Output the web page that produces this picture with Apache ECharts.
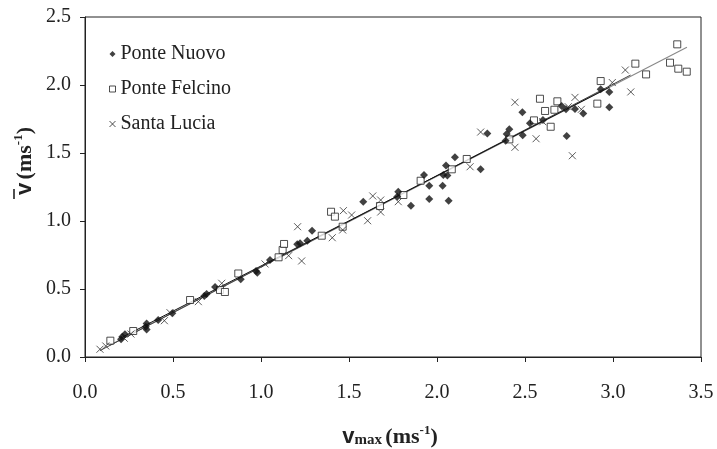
<!DOCTYPE html>
<html><head><meta charset="utf-8">
<script src="https://cdn.jsdelivr.net/npm/echarts@6/dist/echarts.min.js"></script>
<style>html,body{margin:0;padding:0;background:#fff}#c{width:717px;height:449px}</style>
</head><body><div id="c"></div>
<script>
// Ponte Nuovo (filled diamonds): [vmax, vmean]
const ponteNuovo = [
[0.205,0.130],[0.212,0.149],[0.227,0.167],[0.345,0.223],[0.350,0.247],[0.350,0.203],
[0.416,0.272],[0.496,0.321],[0.678,0.449],[0.691,0.463],[0.739,0.515],[0.885,0.571],
[0.972,0.632],[0.979,0.620],[1.051,0.713],[1.206,0.829],[1.222,0.836],[1.263,0.855],
[1.290,0.929],[1.581,1.142],[1.774,1.179],[1.780,1.215],[1.852,1.112],[1.926,1.338],
[1.956,1.260],[1.956,1.162],[2.032,1.260],[2.036,1.338],[2.059,1.335],[2.051,1.409],
[2.066,1.149],[2.102,1.468],[2.248,1.380],[2.286,1.644],[2.390,1.590],[2.396,1.640],
[2.411,1.674],[2.485,1.799],[2.487,1.630],[2.528,1.718],[2.602,1.743],[2.708,1.846],
[2.733,1.821],[2.737,1.625],[2.784,1.824],[2.831,1.791],[2.930,1.968],[2.979,1.949],
[2.979,1.836]
];
// Ponte Felcino (open squares)
const ponteFelcino = [
[0.144,0.120],[0.274,0.191],[0.597,0.419],[0.767,0.493],[0.795,0.478],[0.871,0.614],
[1.100,0.733],[1.123,0.787],[1.131,0.831],[1.345,0.892],[1.398,1.068],[1.420,1.032],
[1.464,0.958],[1.676,1.110],[1.809,1.191],[1.907,1.296],[2.084,1.380],[2.169,1.456],
[2.411,1.600],[2.551,1.740],[2.585,1.899],[2.614,1.809],[2.646,1.693],[2.667,1.818],
[2.684,1.880],[2.911,1.863],[2.930,2.029],[3.127,2.157],[3.188,2.078],[3.324,2.164],
[3.365,2.299],[3.371,2.120],[3.419,2.098]
];
// Santa Lucia (crosses)
const santaLucia = [
[0.085,0.057],[0.118,0.081],[0.223,0.138],[0.261,0.169],[0.451,0.267],[0.483,0.326],
[0.644,0.407],[0.777,0.542],[1.023,0.684],[1.157,0.745],[1.208,0.958],[1.231,0.706],
[1.405,0.877],[1.464,0.934],[1.468,1.076],[1.515,1.044],[1.606,1.002],[1.635,1.184],
[1.680,1.154],[1.680,1.066],[1.780,1.142],[2.188,1.399],[2.248,1.654],[2.443,1.873],
[2.443,1.542],[2.563,1.605],[2.601,1.730],[2.746,1.840],[2.769,1.480],[2.784,1.909],
[2.820,1.821],[2.996,2.018],[3.070,2.110],[3.101,1.949]
];
// Regression line end points
const fitNuovo = [[0.20,0.138],[2.98,1.984]];
const fitFelcino = [[0.14,0.087],[3.42,2.278]];
const fitLucia = [[0.085,0.047],[3.10,2.073]];
// Axis ticks
const xTicks = {min:0, max:3.5, interval:0.5};
const yTicks = {min:0, max:2.5, interval:0.5};
const names = ['Ponte Nuovo','Ponte Felcino','Santa Lucia'];

const serif = 'Liberation Serif';
const crossPath = 'path://M0,0L10,10M10,0L0,10';
const chart = echarts.init(document.getElementById('c'), null, {renderer:'canvas'});
chart.setOption({
  animation:false,
  backgroundColor:'#fff',
  grid:{left:85, top:17, right:16, bottom:92, show:true, borderColor:'#222', borderWidth:1},
  legend:{
    data:[
      {name:names[0], icon:'diamond'},
      {name:names[1], icon:'rect', itemStyle:{color:'#fff', borderColor:'#222', borderWidth:1}},
      {name:names[2], icon:crossPath, itemStyle:{color:'none', borderColor:'#222', borderWidth:1}}
    ],
    orient:'vertical', left:102, top:39, itemGap:15, itemWidth:6, itemHeight:6,
    textStyle:{fontFamily:serif, fontSize:20, color:'#222'}
  },
  xAxis:{
    type:'value', min:xTicks.min, max:xTicks.max, interval:xTicks.interval,
    axisLine:{lineStyle:{color:'#222'}}, axisTick:{show:true, length:5, lineStyle:{color:'#222'}},
    splitLine:{show:false},
    axisLabel:{fontFamily:serif, fontSize:20, color:'#222', margin:26, formatter:v=>v.toFixed(1)}
  },
  yAxis:{
    type:'value', min:yTicks.min, max:yTicks.max, interval:yTicks.interval,
    axisLine:{show:true, lineStyle:{color:'#222'}}, axisTick:{show:true, length:5, lineStyle:{color:'#222'}},
    splitLine:{show:false},
    axisLabel:{fontFamily:serif, fontSize:20, color:'#222', margin:14, formatter:v=>v.toFixed(1)}
  },
  series:[
    {type:'line', data:fitFelcino, symbol:'none', lineStyle:{color:'#888', width:1.2}, silent:true, z:1},
    {type:'line', data:fitLucia, symbol:'none', lineStyle:{color:'#444', width:1}, silent:true, z:1},
    {type:'line', data:fitNuovo, symbol:'none', lineStyle:{color:'#111', width:1}, silent:true, z:1},
    {name:names[0], type:'scatter', data:ponteNuovo, symbol:'diamond', symbolSize:8,
     itemStyle:{color:'#111'}, z:3},
    {name:names[1], type:'scatter', data:ponteFelcino, symbol:'rect', symbolSize:7,
     itemStyle:{color:'#fff', borderColor:'#222', borderWidth:1}, z:2},
    {name:names[2], type:'scatter', data:santaLucia, symbol:crossPath, symbolSize:7,
     itemStyle:{color:'none', borderColor:'#333', borderWidth:1}, z:4}
  ],
  graphic:[
    {type:'text', silent:true, x:390, y:437,
     style:{align:'center', verticalAlign:'middle',
      rich:{
        v:{fontFamily:'Liberation Sans', fontWeight:'bold', fontSize:22, fill:'#222'},
        s:{fontFamily:serif, fontWeight:'bold', fontSize:15, fill:'#222', padding:[7,0,0,0]},
        t:{fontFamily:serif, fontWeight:'bold', fontSize:22, fill:'#222'},
        u:{fontFamily:serif, fontWeight:'bold', fontSize:13, fill:'#222', padding:[0,0,12,0]}
      },
      text:'{v|v}{s|max} {t|(ms}{u|-1}{t|)}'}},
    {type:'group', x:25, y:161, rotation:Math.PI/2, children:[
      {type:'text', silent:true, x:0, y:0,
       style:{align:'center', verticalAlign:'middle',
        rich:{
          v:{fontFamily:'Liberation Sans', fontWeight:'bold', fontSize:22, fill:'#222'},
          t:{fontFamily:serif, fontWeight:'bold', fontSize:22, fill:'#222'},
          u:{fontFamily:serif, fontWeight:'bold', fontSize:13, fill:'#222', padding:[0,0,12,0]}
        },
        text:'{v|v} {t|(ms}{u|-1}{t|)}'}},
      {type:'line', silent:true, shape:{x1:-38, y1:-11, x2:-28, y2:-11}, style:{stroke:'#222', lineWidth:1.6}}
    ]}
  ]
});
</script></body></html>
